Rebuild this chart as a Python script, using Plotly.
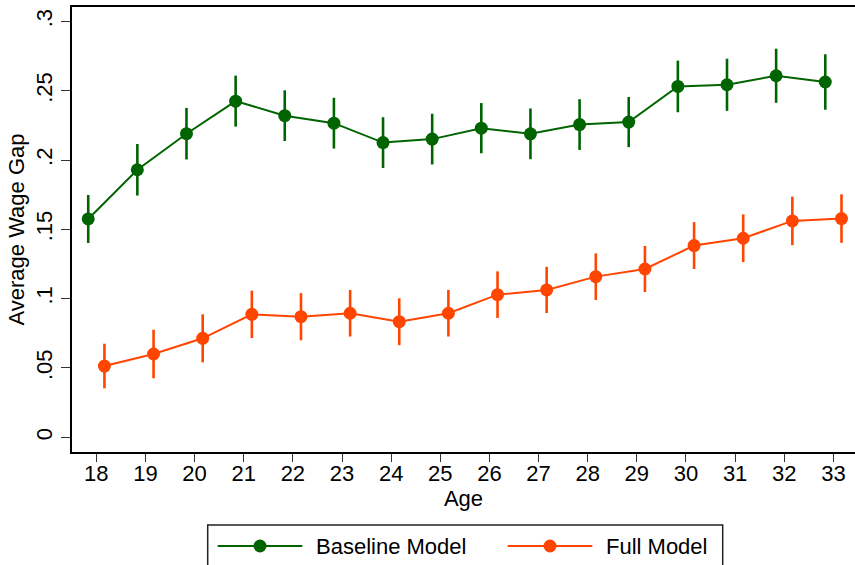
import plotly.graph_objects as go

ages = list(range(18, 34))
baseline = [0.1575, 0.1930, 0.2190, 0.2425, 0.2320, 0.2266, 0.2126, 0.2151,
            0.2230, 0.2189, 0.2256, 0.2274, 0.2531, 0.2543, 0.2608, 0.2563]
baseline_ci = [0.0173, 0.0186, 0.0186, 0.0184, 0.0183, 0.0183, 0.0183, 0.0183,
               0.0181, 0.0183, 0.0183, 0.0181, 0.0186, 0.0188, 0.0195, 0.0200]
full = [0.0514, 0.0601, 0.0714, 0.0887, 0.0870, 0.0895, 0.0834, 0.0895,
        0.1029, 0.1063, 0.1159, 0.1214, 0.1383, 0.1436, 0.1561, 0.1578]
full_ci = [0.0161, 0.0175, 0.0173, 0.0171, 0.0170, 0.0168, 0.0169, 0.0168,
           0.0168, 0.0167, 0.0168, 0.0166, 0.0169, 0.0172, 0.0175, 0.0175]
y_ticks = [0, 0.05, 0.1, 0.15, 0.2, 0.25, 0.3]
y_ticktext = ["0", ".05", ".1", ".15", ".2", ".25", ".3"]
series_names = ["Baseline Model", "Full Model"]

GREEN = "#006400"
ORANGE = "#FF4500"
FONT = "Liberation Sans, Arial, sans-serif"
FS = 22
offset = 0.165

fig = go.Figure()
for name, vals, ci, col, sh in [(series_names[0], baseline, baseline_ci, GREEN, -offset),
                                (series_names[1], full, full_ci, ORANGE, offset)]:
    fig.add_trace(go.Scatter(
        x=[a + sh for a in ages], y=vals, name=name, mode="lines+markers",
        line=dict(color=col, width=2),
        marker=dict(color=col, size=13),
        error_y=dict(type="data", array=ci, visible=True, color=col,
                     thickness=2.6, width=0),
        showlegend=False,
    ))

W, H = 855, 565
L, R, T, B = 72, 0, 7, 113
pw, ph = W - L - R, H - T - B


def px(x):
    return (x - L) / pw


def py(y):
    return (H - B - y) / ph


shapes = [
    dict(type="rect", xref="paper", yref="paper", x0=px(207.7), x1=px(722.7),
         y0=py(600), y1=py(525), line=dict(color="#222", width=1.5),
         fillcolor="white", layer="above"),
]
annotations = []
for (x0, x1, xt, col, name) in [(217.7, 302.3, 313.7, GREEN, series_names[0]),
                                 (507.7, 592.3, 603.7, ORANGE, series_names[1])]:
    ym = 546
    shapes.append(dict(type="line", xref="paper", yref="paper", x0=px(x0), x1=px(x1),
                       y0=py(ym), y1=py(ym), line=dict(color=col, width=2)))
    xc = (x0 + x1) / 2
    r = 6.5
    shapes.append(dict(type="circle", xref="paper", yref="paper",
                       x0=px(xc - r), x1=px(xc + r), y0=py(ym + r), y1=py(ym - r),
                       fillcolor=col, line=dict(color=col, width=0)))
    annotations.append(dict(xref="paper", yref="paper", x=px(xt), y=py(ym),
                            xanchor="left", yanchor="middle", text=name,
                            showarrow=False, font=dict(size=FS, color="black", family=FONT)))

fig.update_layout(
    width=W, height=H, autosize=False,
    margin=dict(l=L, r=R, t=T, b=B),
    paper_bgcolor="white", plot_bgcolor="white",
    font=dict(family=FONT, size=FS, color="black"),
    shapes=shapes, annotations=annotations,
    xaxis=dict(range=[17.505, 33.44], tickmode="array", tickvals=ages,
               ticktext=[str(a) for a in ages], ticks="outside", ticklen=8,
               tickwidth=1.3, tickcolor="#333", showline=True, linecolor="black",
               linewidth=2, mirror=True, showgrid=False, zeroline=False,
               tickfont=dict(size=FS), ticklabelstandoff=-7,
               title=dict(text="Age", font=dict(size=FS), standoff=0)),
    yaxis=dict(range=[-0.0106, 0.3104], tickmode="array", tickvals=y_ticks,
               ticktext=y_ticktext, tickangle=-90, ticks="outside", ticklen=9,
               tickwidth=1.3, tickcolor="#333", showline=True, linecolor="black",
               linewidth=2, mirror=False, showgrid=False, zeroline=False,
               tickfont=dict(size=FS),
               title=dict(text="Average Wage Gap", font=dict(size=FS), standoff=2)),
)

fig.write_html("out.html")
